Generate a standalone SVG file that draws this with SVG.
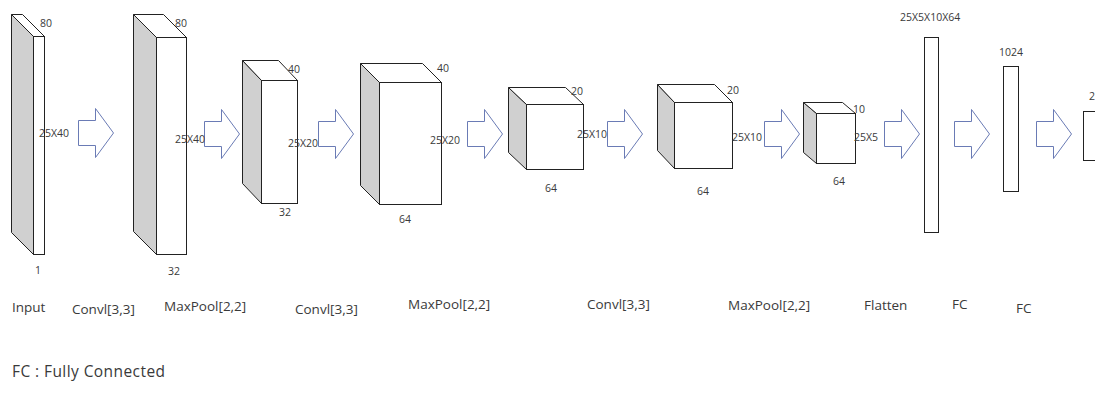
<svg xmlns="http://www.w3.org/2000/svg" xmlns:xlink="http://www.w3.org/1999/xlink" width="1095" height="407" viewBox="0 0 1095 407">
<defs>
<style>
.side{fill:#d0d0d0;stroke:#222;stroke-width:1;stroke-linejoin:round}
.top{fill:#fff;stroke:#222;stroke-width:1;stroke-linejoin:round}
.front{fill:#fff;stroke:#222;stroke-width:1}
.arrow{fill:#fff;stroke:#6a7bb5;stroke-width:1;stroke-linejoin:miter}
.dim{font-family:"Open Sans","Noto Sans",sans-serif;font-size:10.5px;fill:#3a3a3a}
.lbl{font-family:"Open Sans","Noto Sans",sans-serif;font-size:13.5px;fill:#3a3a3a}
.legend{font-family:"Open Sans","Noto Sans",sans-serif;font-size:15.5px;fill:#3a3a3a}
</style>
<path id="arrow" class="arrow" d="M0.5,12.5 H17.5 V0.5 L35.5,25 L17.5,49.5 V37.5 H0.5 Z"/>
</defs>
<rect width="1095" height="407" fill="#fff"/>

<g id="connectors">
<use xlink:href="#arrow" x="78" y="108"/>
<use xlink:href="#arrow" x="204" y="109"/>
<use xlink:href="#arrow" x="318" y="109"/>
<use xlink:href="#arrow" x="467" y="109"/>
<use xlink:href="#arrow" x="607" y="109"/>
<use xlink:href="#arrow" x="764" y="109"/>
<use xlink:href="#arrow" x="884" y="109"/>
<use xlink:href="#arrow" x="954" y="109"/>
<use xlink:href="#arrow" x="1036" y="109"/>
</g>

<g id="input">
<polygon class="side" points="11.5,14.5 33.5,36.5 33.5,254.5 11.5,232.5"/>
<polygon class="top" points="11.5,14.5 22.5,14.5 44.5,36.5 33.5,36.5"/>
<rect class="front" x="33.5" y="36.5" width="11" height="218"/>
<text class="dim" x="40" y="27">80</text>
<text class="dim" x="39" y="137">25X40</text>
<text class="dim" x="35" y="274">1</text>
</g>

<g id="conv1">
<polygon class="side" points="133.5,14.5 156.5,37.5 156.5,254.5 133.5,231.5"/>
<polygon class="top" points="133.5,14.5 163.5,14.5 186.5,37.5 156.5,37.5"/>
<rect class="front" x="156.5" y="37.5" width="30" height="217"/>
<text class="dim" x="175" y="27">80</text>
<text class="dim" x="175" y="143">25X40</text>
<text class="dim" x="168" y="275">32</text>
</g>

<g id="pool1">
<polygon class="side" points="242.5,60.5 261.5,80.5 261.5,203.5 242.5,183.5"/>
<polygon class="top" points="242.5,60.5 278.5,60.5 297.5,80.5 261.5,80.5"/>
<rect class="front" x="261.5" y="80.5" width="36" height="123"/>
<text class="dim" x="288" y="73">40</text>
<text class="dim" x="288" y="147">25X20</text>
<text class="dim" x="279" y="216">32</text>
</g>

<g id="conv2">
<polygon class="side" points="360.5,63.5 379.5,82.5 379.5,204.5 360.5,185.5"/>
<polygon class="top" points="360.5,63.5 422.5,63.5 441.5,82.5 379.5,82.5"/>
<rect class="front" x="379.5" y="82.5" width="62" height="122"/>
<text class="dim" x="437" y="72">40</text>
<text class="dim" x="430" y="144">25X20</text>
<text class="dim" x="399" y="223">64</text>
</g>

<g id="pool2">
<polygon class="side" points="508.5,87.5 526.5,104.5 526.5,169.5 508.5,152.5"/>
<polygon class="top" points="508.5,87.5 565.5,87.5 583.5,104.5 526.5,104.5"/>
<rect class="front" x="526.5" y="104.5" width="57" height="65"/>
<text class="dim" x="571" y="95">20</text>
<text class="dim" x="577" y="138">25X10</text>
<text class="dim" x="545" y="192">64</text>
</g>

<g id="conv3">
<polygon class="side" points="657.5,84.5 674.5,102.5 674.5,168.5 657.5,150.5"/>
<polygon class="top" points="657.5,84.5 714.5,84.5 732.5,102.5 674.5,102.5"/>
<rect class="front" x="674.5" y="102.5" width="58" height="66"/>
<text class="dim" x="727" y="94">20</text>
<text class="dim" x="732" y="141">25X10</text>
<text class="dim" x="697" y="195">64</text>
</g>

<g id="pool3">
<polygon class="side" points="803.5,102.5 816.5,113.5 816.5,163.5 803.5,152.5"/>
<polygon class="top" points="803.5,102.5 842.5,102.5 855.5,113.5 816.5,113.5"/>
<rect class="front" x="816.5" y="113.5" width="39" height="50"/>
<text class="dim" x="853" y="113">10</text>
<text class="dim" x="854" y="141">25X5</text>
<text class="dim" x="833" y="185">64</text>
</g>

<g id="flatten">
<rect class="front" x="924.5" y="37.5" width="14" height="195"/>
<text class="dim" x="900" y="21">25X5X10X64</text>
</g>

<g id="fc1">
<rect class="front" x="1003.5" y="66.5" width="15" height="125"/>
<text class="dim" x="999" y="56">1024</text>
</g>

<g id="fc2">
<rect class="front" x="1083.5" y="111.5" width="20" height="49"/>
<text class="dim" x="1089" y="100">2</text>
</g>

<g id="labels">
<text class="lbl" x="12" y="312">Input</text>
<text class="lbl" x="72" y="314">Convl[3,3]</text>
<text class="lbl" x="164" y="311">MaxPool[2,2]</text>
<text class="lbl" x="295" y="314">Convl[3,3]</text>
<text class="lbl" x="408" y="309">MaxPool[2,2]</text>
<text class="lbl" x="587" y="309">Convl[3,3]</text>
<text class="lbl" x="728" y="310">MaxPool[2,2]</text>
<text class="lbl" x="864" y="310">Flatten</text>
<text class="lbl" x="952" y="309">FC</text>
<text class="lbl" x="1016" y="313">FC</text>
<text class="legend" x="12" y="377" textLength="153">FC : Fully Connected</text>
</g>
</svg>
